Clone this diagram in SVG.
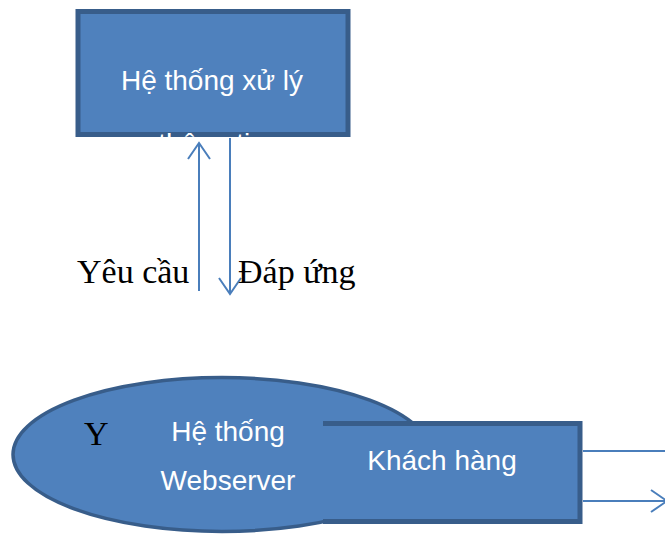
<svg xmlns="http://www.w3.org/2000/svg" width="665" height="536" viewBox="0 0 665 536">
<style>
.box{fill:#4F81BD;}
.edge{fill:none;stroke:#385D8A;stroke-width:5;}
.wt{fill:#FFFFFF;font-family:"Liberation Sans",Arial,sans-serif;font-size:28px;text-anchor:middle;}
.bk{fill:#000000;font-family:"Liberation Serif","Times New Roman",serif;font-size:34px;}
.conn{fill:none;stroke:#4A7EBB;stroke-width:2;}
</style>
<defs>
<clipPath id="clipThong"><rect x="0" y="131" width="665" height="7"/></clipPath>
<marker id="arr" markerWidth="22" markerHeight="26" refX="17" refY="12" orient="auto" markerUnits="userSpaceOnUse">
<path d="M1,1 L17,12 L1,23" fill="none" stroke="#4A7EBB" stroke-width="2"/>
</marker>
</defs>

<g id="he-thong-xu-ly">
<rect class="box" x="78" y="11.5" width="270" height="123"/>
<rect class="edge" x="78" y="11.5" width="270" height="123"/>
<text class="wt" x="212" y="90">Hệ thống xử lý</text>
<text class="wt" x="212" y="153" clip-path="url(#clipThong)">thông tin</text>
</g>

<g id="connectors">
<line class="conn" x1="199" y1="291" x2="199" y2="143" marker-end="url(#arr)"/>
<line class="conn" x1="230" y1="138" x2="230" y2="294" marker-end="url(#arr)"/>
<line class="conn" x1="583" y1="451" x2="665" y2="451"/>
<line class="conn" x1="583" y1="501" x2="667" y2="501" marker-end="url(#arr)"/>
</g>

<g id="labels">
<text class="bk" x="77" y="283">Yêu cầu</text>
<text class="bk" x="238" y="283">Đáp ứng</text>
</g>

<g id="he-thong-webserver">
<ellipse class="box" cx="222" cy="454.5" rx="209" ry="77" stroke="#385D8A" stroke-width="3.5"/>
<text class="bk" x="84" y="445">Y</text>
<text class="wt" x="228" y="441">Hệ thống</text>
<text class="wt" x="228" y="490">Webserver</text>
</g>

<g id="khach-hang">
<rect class="box" x="323" y="423.5" width="257" height="98"/>
<path class="edge" d="M323,423.5 H580 V521.5 H323"/>
<text class="wt" x="442" y="470">Khách hàng</text>
</g>
</svg>
